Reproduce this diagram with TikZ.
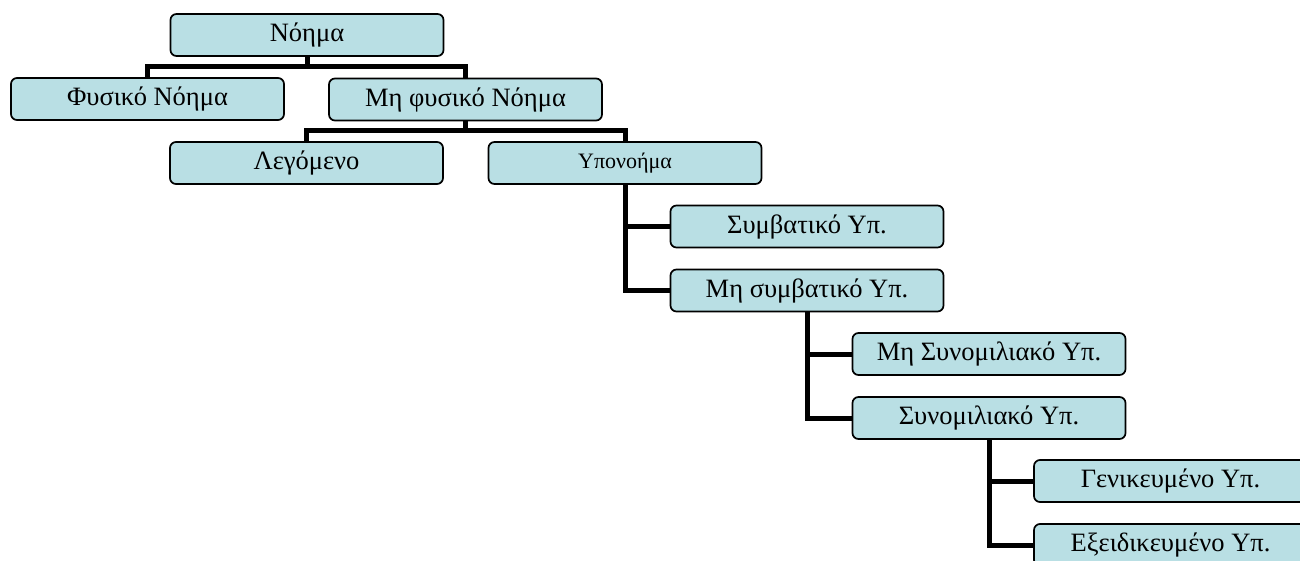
\documentclass[tikz,border=0pt]{standalone}
\usepackage{fontspec}
\setmainfont{Liberation Serif}
\definecolor{boxfill}{RGB}{185,223,228}

\begin{document}
\begin{tikzpicture}
  [x=1pt,y=-1pt,
   every node/.style={draw,rounded corners=6pt,fill=boxfill,line width=1.7pt,
     minimum width=273pt,minimum height=42pt,inner sep=0pt,
     font=\fontsize{26.5}{30}\selectfont},
   conn/.style={line width=5pt}]
  \clip (0,0) rectangle (1300,560);
  \node (nm)    at (307,35)     {Νόημα};
  \node (fys)   at (147.5,99)   {Φυσικό Νόημα};
  \node (mfys)  at (465.5,99.5) {Μη φυσικό Νόημα};
  \node (leg)   at (306.5,163)  {Λεγόμενο};
  \node (ypo)   at (625,163)    {\fontsize{22}{26}\selectfont Υπονοήμα};
  \node (symb)  at (807,226.5)  {Συμβατικό Υπ.};
  \node (msymb) at (807,290.5)  {Μη συμβατικό Υπ.};
  \node (msyn)  at (989,354)    {Μη Συνομιλιακό Υπ.};
  \node (syn)   at (989,418)    {Συνομιλιακό Υπ.};
  \node (gen)   at (1170.5,481) {Γενικευμένο Υπ.};
  \node (exe)   at (1170.5,545) {Εξειδικευμένο Υπ.};

  \draw[conn] (nm.south) -- ++(0,11);
  \draw[conn] (fys.north) -- ++(0,-11) -| (mfys.north);
  \draw[conn] (mfys.south) -- ++(0,10);
  \draw[conn] (leg.north) -- ++(0,-11) -| (ypo.north);

  \foreach \from/\to in {ypo/symb,ypo/msymb,msymb/msyn,msymb/syn,syn/gen,syn/exe}
    \draw[conn] (\from.south) |- (\to.west);
\end{tikzpicture}
\end{document}
